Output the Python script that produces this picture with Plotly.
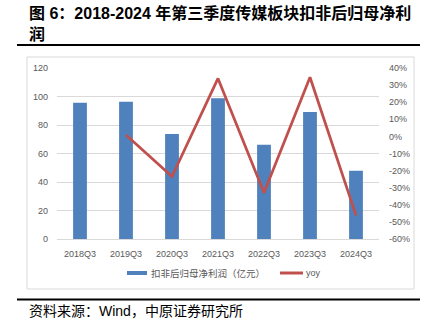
import plotly.graph_objects as go

# Q3 non-recurring-adjusted net profit attributable to parent, media sector
quarters = ["2018Q3", "2019Q3", "2020Q3", "2021Q3", "2022Q3", "2023Q3", "2024Q3"]
profit = [95.6, 96.4, 73.7, 98.7, 66.2, 89.1, 47.9]          # 亿元
yoy = [None, 0.008, -0.235, 0.339, -0.329, 0.346, -0.462]     # year-on-year change

left_ticks = [0, 20, 40, 60, 80, 100, 120]
right_ticks = [-0.6, -0.5, -0.4, -0.3, -0.2, -0.1, 0.0, 0.1, 0.2, 0.3, 0.4]
right_tick_labels = ["-60%", "-50%", "-40%", "-30%", "-20%", "-10%", "0%",
                     "10%", "20%", "30%", "40%"]

title_line1 = "图 6：2018-2024 年第三季度传媒板块扣非后归母净利"
title_line2 = "润"
bar_name = "扣非后归母净利润（亿元）"
line_name = "yoy"
source_text = "资料来源：Wind，中原证券研究所"

BLUE = "#4F81BD"
RED = "#C0504D"
TICK = "#595959"
GRID = "#D9D9D9"

W, H = 434, 331
ML, MR, MT, MB = 57, 55, 68, 92
pw = W - ML - MR
ph = H - MT - MB


def qx(x):
    # pixel column -> paper x (paper spans the plot area)
    return (x - ML) / pw


def qy(y):
    # pixel row -> paper y
    return (H - MB - y) / ph


fig = go.Figure()
fig.add_trace(go.Bar(x=quarters, y=profit, name=bar_name, marker_color=BLUE,
                     marker_line_width=0, showlegend=False))
fig.add_trace(go.Scatter(x=quarters, y=yoy, name=line_name, yaxis="y2",
                         mode="lines", line=dict(color=RED, width=2.75),
                         connectgaps=False, showlegend=False))

tick_font = dict(family="Liberation Sans", size=9, color=TICK)

fig.update_layout(
    width=W, height=H,
    margin=dict(l=ML, r=MR, t=MT, b=MB, pad=0),
    paper_bgcolor="white", plot_bgcolor="white",
    bargap=0.7,
    showlegend=False,
    xaxis=dict(type="category", tickfont=tick_font, showgrid=False,
               showline=True, linecolor=GRID, linewidth=1, ticks="",
               ticklabelstandoff=6, zeroline=False),
    yaxis=dict(range=[0, 120], tickvals=left_ticks, tickfont=tick_font,
               showgrid=True, gridcolor=GRID, gridwidth=1, zeroline=False,
               showline=False, ticks="", ticklabelstandoff=8),
    yaxis2=dict(range=[-0.6, 0.4], overlaying="y", side="right",
                tickvals=right_ticks, ticktext=right_tick_labels,
                tickfont=tick_font, showgrid=False, zeroline=False,
                showline=False, ticks="", ticklabelstandoff=9),
)

shapes = [
    # chart frame
    dict(type="rect", xref="paper", yref="paper",
         x0=qx(27), x1=qx(414), y0=qy(289), y1=qy(57),
         line=dict(color=GRID, width=1), layer="below"),
    # rules under the title and above the source note
    dict(type="line", xref="paper", yref="paper",
         x0=qx(17), x1=qx(420), y0=qy(45), y1=qy(45),
         line=dict(color="black", width=2)),
    dict(type="line", xref="paper", yref="paper",
         x0=qx(17), x1=qx(420), y0=qy(299.5), y1=qy(299.5),
         line=dict(color="black", width=2)),
    # legend keys
    dict(type="line", xref="paper", yref="paper",
         x0=qx(127), x1=qx(147), y0=qy(273), y1=qy(273),
         line=dict(color=BLUE, width=4)),
    dict(type="line", xref="paper", yref="paper",
         x0=qx(280), x1=qx(303), y0=qy(273), y1=qy(273),
         line=dict(color=RED, width=3)),
]

title_font = dict(family="Liberation Sans, Noto Sans CJK SC", size=16, color="black")

annotations = [
    dict(text="<b>" + title_line1 + "</b>", xref="paper", yref="paper",
         x=qx(27), y=qy(13), xanchor="left", yanchor="middle", showarrow=False,
         font=title_font),
    dict(text="<b>" + title_line2 + "</b>", xref="paper", yref="paper",
         x=qx(27), y=qy(34), xanchor="left", yanchor="middle", showarrow=False,
         font=title_font),
    dict(text=bar_name, xref="paper", yref="paper",
         x=qx(149), y=qy(273), xanchor="left", yanchor="middle", showarrow=False,
         font=dict(family="Noto Sans CJK SC", size=9.5, color=TICK)),
    dict(text=line_name, xref="paper", yref="paper",
         x=qx(304), y=qy(273), xanchor="left", yanchor="middle", showarrow=False,
         font=dict(family="Liberation Sans", size=9, color=TICK)),
    dict(text=source_text, xref="paper", yref="paper",
         x=qx(27), y=qy(311), xanchor="left", yanchor="middle", showarrow=False,
         font=dict(family="Liberation Sans, Noto Sans CJK SC", size=14, color="black")),
]

fig.update_layout(shapes=shapes, annotations=annotations)
fig.write_html("out.html")
